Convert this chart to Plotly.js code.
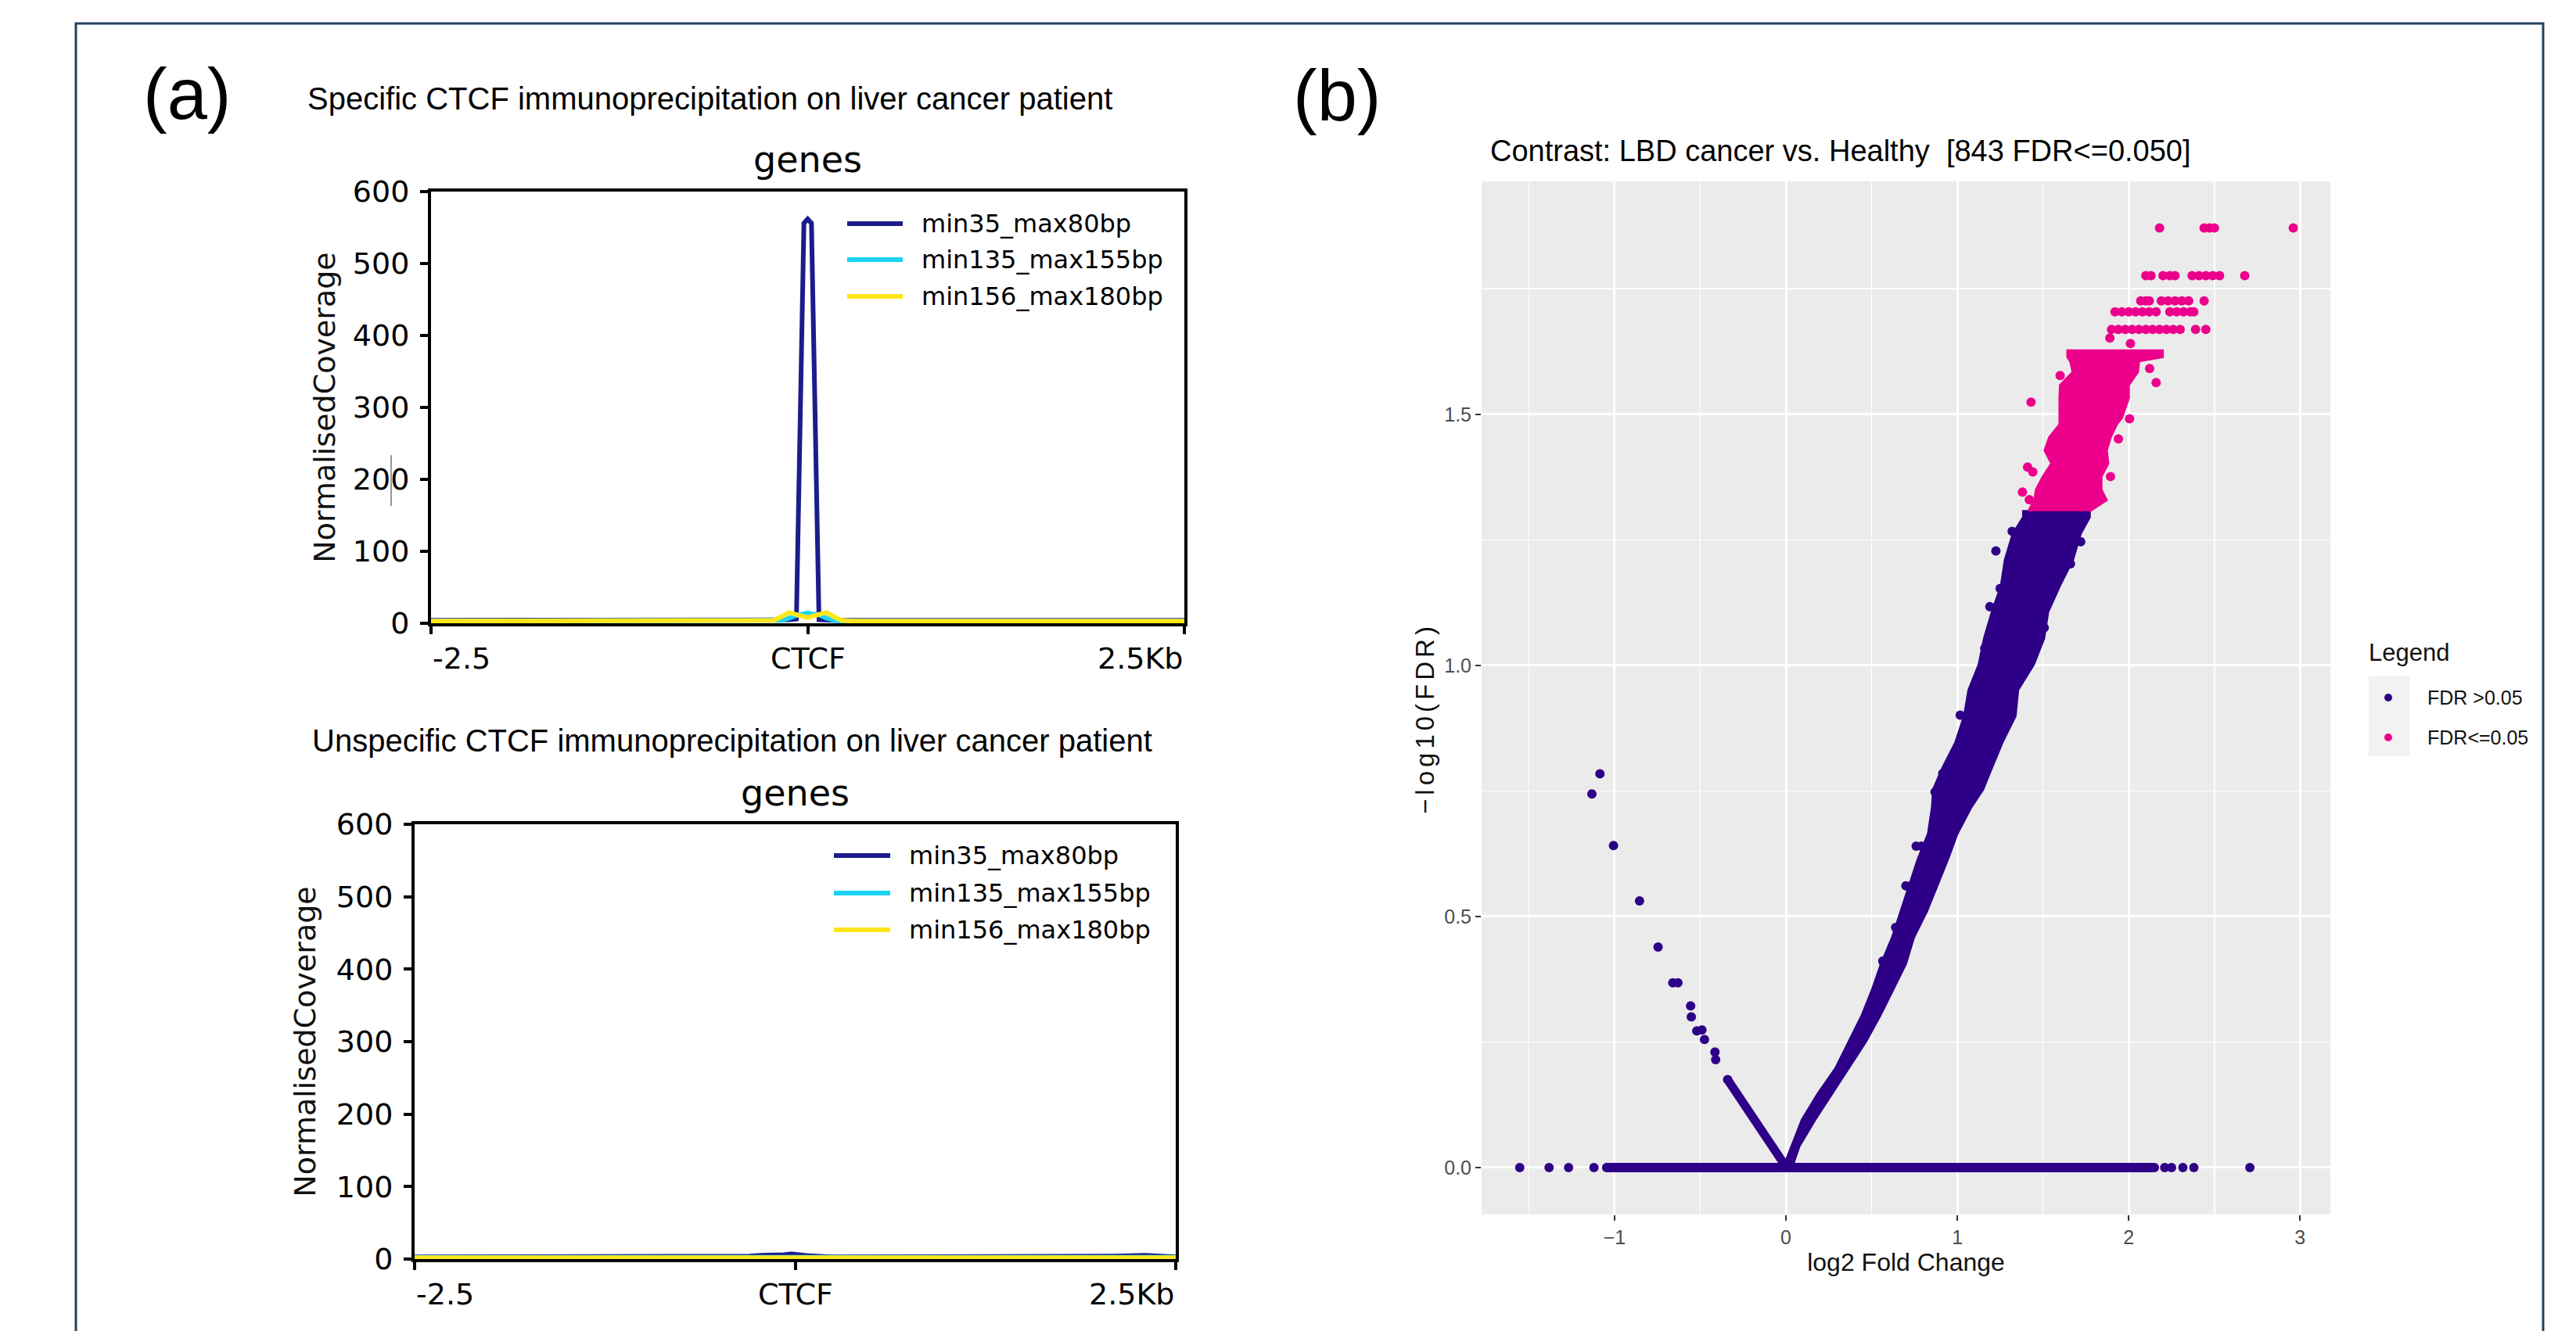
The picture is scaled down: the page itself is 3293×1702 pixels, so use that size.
<!DOCTYPE html>
<html><head><meta charset="utf-8">
<script src="https://cdn.plot.ly/plotly-3.0.1.min.js"></script>
<style>html,body{margin:0;padding:0;background:#fff;overflow:hidden}#chart{width:3293px;height:1702px}</style>
</head><body><div id="chart"></div>
<script>
// ---------- Panel (a): coverage profiles (bins in bp around CTCF) ----------
const binPos = [-2500,-2300,-2100,-1900,-1700,-1500,-1300,-1100,-900,-700,-500,-400,-300,-225,-175,-125,-75,-25,0,25,75,125,175,225,300,400,500,700,900,1100,1300,1500,1700,1900,2100,2300,2500];
const seriesNames = ['min35_max80bp','min135_max155bp','min156_max180bp'];
const specMin35   = [4,4,5,4,4,5,4,4,4,4,4,4,4,4,5,5,6,556,562,556,5,4,4,4,4,4,4,4,4,4,5,4,5,4,4,5,4];
const specMin135  = [3,3,3,3,3,3,3,3,3,3,3,3,3,3,4,7,11,13,14,13,12,7,4,3,3,3,3,3,3,3,3,3,3,3,3,3,3];
const specMin156  = [3,3,3,3,3,3,3,3,3,3,3,3,3,4,9,15,12,9.5,8,9.5,12.5,15,9,4,3,3,3,3,3,3,3,3,3,3,3,3,3];
const unspecMin35  = [3,3,3,3,3,3,3,3,3,4,4,4,4,5,5,5,6,7,7,6,5,4,4,3,3,3,3,3,3,3,3,3,3,3,4,5,3];
const unspecMin135 = [2.5,2.5,2.5,2.5,2.5,2.5,2.5,2.5,2.5,2.5,2.5,2.5,2.5,2.5,2.5,3,3,3,3,3,3,3,2.5,2.5,2.5,2.5,2.5,2.5,2.5,2.5,2.5,2.5,2.5,2.5,2.5,2.5,2.5];
const unspecMin156 = [2,2,2,2,2,2,2,2,2,2,2,2,2,2,2,2,2.5,2.5,2.5,2.5,2.5,2,2,2,2,2,2,2,2,2,2,2,2,2,2,2,2];
const covTicks = [0,100,200,300,400,500,600];
const xTickVals = [-2500,0,2500];
const xTickText = ['-2.5','CTCF','2.5Kb'];

// ---------- Panel (b): volcano plot (log2 FC vs -log10 FDR) ----------
const blueBandX = [-0.015,0.032,0.093,0.184,0.29,0.366,0.442,0.503,0.556,0.62,0.67,0.716,0.769,0.83,0.853,0.86,0.913,0.99,1.04,1.066,1.126,1.157,1.202,1.255,1.278,1.324,1.385,1.385,
                   1.772,1.772,1.719,1.674,1.597,1.529,1.506,1.446,1.354,1.339,1.263,1.2,1.15,1.08,1.0,0.944,0.883,0.822,0.746,0.70,0.625,0.549,0.465,0.366,0.268,0.169,0.078,0.035];
const blueBandY = [0,0.0425,0.0945,0.146,0.198,0.25,0.302,0.354,0.406,0.458,0.51,0.561,0.613,0.665,0.717,0.753,0.795,0.847,0.899,0.951,1.002,1.054,1.106,1.158,1.21,1.262,1.295,1.307,
                   1.307,1.295,1.262,1.21,1.158,1.106,1.054,1.002,0.951,0.899,0.847,0.795,0.753,0.717,0.665,0.613,0.561,0.51,0.458,0.406,0.354,0.302,0.25,0.198,0.146,0.0945,0.0425,0];
const pinkBandX = [1.415,1.45,1.46,1.50,1.55,1.51,1.537,1.597,1.597,1.60,1.674,1.66,1.643,1.643,
                   2.198,2.198,2.06,2.053,2.0,2.0,1.96,1.93,1.894,1.871,1.88,1.84,1.84,1.871,1.772];
const pinkBandY = [1.307,1.329,1.35,1.376,1.402,1.428,1.454,1.48,1.532,1.558,1.584,1.605,1.614,1.627,
                   1.627,1.614,1.606,1.584,1.558,1.532,1.493,1.48,1.454,1.428,1.402,1.376,1.35,1.329,1.307];
const zeroRowX = [-1.046, 2.15];
const zeroRowY = [0, 0];
const leftArmX = [-0.34, -0.005];
const leftArmY = [0.175, 0.004];
const bluePtsX = [-1.553,-1.382,-1.268,-1.12,2.21,2.25,2.316,2.38,2.707,-1.085,-1.132,-1.006,-0.854,-0.746,-0.66,-0.63,-0.556,-0.552,-0.52,-0.49,-0.475,-0.414,-0.41,1.225,1.017,
                  1.25,1.29,1.19,1.23,1.16,1.21,1.32,1.36,1.66,1.72,1.507,1.477,0.915,0.945,0.87,0.90,
                  0.70,0.73,0.64,0.67,0.565,0.61,0.76,0.79];
const bluePtsY = [0,0,0,0,0,0,0,0,0,0.784,0.744,0.641,0.531,0.439,0.368,0.368,0.322,0.300,0.272,0.274,0.255,0.230,0.215,1.228,0.901,
                  1.153,1.153,1.117,1.117,1.034,1.034,1.267,1.267,1.202,1.246,1.075,1.049,0.785,0.785,0.748,0.748,
                  0.561,0.561,0.478,0.478,0.411,0.411,0.64,0.64];
const pinkPtsX = [1.38,1.42,1.41,1.44,1.43,1.60,2.16,2.122,2.005,1.894,1.94,2.01,1.89];
const pinkPtsY = [1.345,1.33,1.395,1.385,1.524,1.577,1.563,1.591,1.491,1.376,1.451,1.641,1.652];
const pinkRowY = [1.669, 1.704, 1.726, 1.776, 1.871];
const pinkRowX = [
  [1.90,1.94,1.98,2.02,2.06,2.10,2.14,2.18,2.22,2.26,2.30,2.39,2.45],
  [1.92,1.96,2.00,2.04,2.08,2.12,2.16,2.24,2.28,2.32,2.36,2.38],
  [2.07,2.10,2.12,2.19,2.23,2.27,2.31,2.35,2.44],
  [2.10,2.13,2.20,2.24,2.27,2.37,2.41,2.45,2.49,2.53,2.677],
  [2.18,2.44,2.47,2.50,2.96]
];
const fcTicks = [-1,0,1,2,3];
const fcTickText = ['\u22121','0','1','2','3'];
const fdrTicks = [0,0.5,1,1.5];
const fdrTickText = ['0.0','0.5','1.0','1.5'];
const legendLabels = ['FDR >0.05','FDR<=0.05'];

// ---------- geometry helpers ----------
const SW = 3293, SH = 1702;
const fx = p => p / SW;
const fy = p => 1 - p / SH;
const NAVY = '#1c1c8c', CYAN = '#1bd3f5', YELLOW = '#fde71c';
const BLUE = '#2d0087', PINK = '#ec008b';
const lineColors = [NAVY, CYAN, YELLOW];
const MS = 12;

function covTrace(i, y, xa, ya) {
  return {type:'scatter', mode:'lines', name:seriesNames[i], x:binPos, y:y, xaxis:xa, yaxis:ya,
          line:{color:lineColors[i], width:6}, hoverinfo:'skip', showlegend:false};
}

const pinkAllX = pinkPtsX.slice(), pinkAllY = pinkPtsY.slice();
pinkRowX.forEach((row, i) => row.forEach(v => { pinkAllX.push(v); pinkAllY.push(pinkRowY[i]); }));

const traces = [
  covTrace(0, specMin35, 'x', 'y'), covTrace(1, specMin135, 'x', 'y'), covTrace(2, specMin156, 'x', 'y'),
  covTrace(0, unspecMin35, 'x2', 'y2'), covTrace(1, unspecMin135, 'x2', 'y2'), covTrace(2, unspecMin156, 'x2', 'y2'),
  {type:'scatter', mode:'lines', x:blueBandX, y:blueBandY, xaxis:'x3', yaxis:'y3', fill:'toself', fillcolor:BLUE,
   line:{color:BLUE, width:3}, hoverinfo:'skip', showlegend:false, name:legendLabels[0]},
  {type:'scatter', mode:'lines+markers', x:zeroRowX, y:zeroRowY, xaxis:'x3', yaxis:'y3',
   line:{color:BLUE, width:MS}, marker:{color:BLUE, size:MS}, hoverinfo:'skip', showlegend:false},
  {type:'scatter', mode:'lines+markers', x:leftArmX, y:leftArmY, xaxis:'x3', yaxis:'y3',
   line:{color:BLUE, width:11}, marker:{color:BLUE, size:MS}, hoverinfo:'skip', showlegend:false},
  {type:'scatter', mode:'markers', x:bluePtsX, y:bluePtsY, xaxis:'x3', yaxis:'y3',
   marker:{color:BLUE, size:MS}, hoverinfo:'skip', showlegend:false, cliponaxis:false},
  {type:'scatter', mode:'lines', x:pinkBandX, y:pinkBandY, xaxis:'x3', yaxis:'y3', fill:'toself', fillcolor:PINK,
   line:{color:PINK, width:3}, hoverinfo:'skip', showlegend:false, name:legendLabels[1]},
  {type:'scatter', mode:'markers', x:pinkAllX, y:pinkAllY, xaxis:'x3', yaxis:'y3',
   marker:{color:PINK, size:MS}, hoverinfo:'skip', showlegend:false}
];

function aX(domain, anchor) {
  return {domain, anchor, range:[-2500,2500], showgrid:false, zeroline:false, showline:true, linecolor:'#000',
          linewidth:4, mirror:true, ticks:'outside', ticklen:10, tickwidth:4, tickcolor:'#000',
          tickvals:xTickVals, showticklabels:false, fixedrange:true};
}
function aY(domain, anchor, standoff) {
  return {domain, anchor, range:[0,600], showgrid:false, zeroline:false, showline:true, linecolor:'#000',
          linewidth:4, mirror:true, ticks:'outside', ticklen:10, tickwidth:4, tickcolor:'#000',
          tickvals:covTicks, ticktext:covTicks.map(String), ticklabelstandoff:6,
          tickfont:{family:'DejaVu Sans', size:38, color:'#000'},
          title:{text:'NormalisedCoverage', font:{family:'DejaVu Sans', size:38, color:'#111'}, standoff}};
}

const layout = {
  width:SW, height:SH, margin:{l:0, r:0, t:0, b:0}, paper_bgcolor:'#fff', plot_bgcolor:'rgba(0,0,0,0)',
  showlegend:false, hovermode:false, font:{family:'DejaVu Sans', color:'#000'},
  xaxis: aX([fx(551), fx(1514)], 'y'),
  yaxis: aY([fy(797), fy(245)], 'x', 12),
  xaxis2: aX([fx(530), fx(1503)], 'y2'),
  yaxis2: aY([fy(1610), fy(1054)], 'x2', 16),
  xaxis3: {domain:[fx(1894), fx(2979)], anchor:'y3', range:[-1.7755, 3.1766], showline:false, zeroline:false,
           showgrid:true, gridcolor:'#fff', gridwidth:3, ticks:'outside', ticklen:7, tickwidth:2, tickcolor:'#333',
           tickvals:fcTicks, ticktext:fcTickText, tickfont:{family:'Liberation Sans', size:25, color:'#4d4d4d'},
           minor:{tickvals:[-1.5,-0.5,0.5,1.5,2.5], showgrid:true, gridcolor:'#fff', gridwidth:1.5, ticks:''},
           title:{text:'log2 Fold Change', font:{family:'Liberation Sans', size:32, color:'#111'}, standoff:4}},
  yaxis3: {domain:[fy(1553), fy(232)], anchor:'x3', range:[-0.0935, 1.9637], showline:false, zeroline:false,
           showgrid:true, gridcolor:'#fff', gridwidth:3, ticks:'outside', ticklen:7, tickwidth:2, tickcolor:'#333',
           tickvals:fdrTicks, ticktext:fdrTickText, tickfont:{family:'Liberation Sans', size:25, color:'#4d4d4d'},
           minor:{tickvals:[0.25,0.75,1.25,1.75], showgrid:true, gridcolor:'#fff', gridwidth:1.5, ticks:''},
           title:{text:'\u2212log10(FDR)', font:{family:'Liberation Sans', size:33, color:'#111'}, standoff:2}},
  shapes: [
    {type:'rect', xref:'paper', yref:'paper', x0:fx(97), x1:fx(3251), y0:fy(1720), y1:fy(30),
     line:{color:'#23405e', width:3}, fillcolor:'rgba(0,0,0,0)', layer:'below'},
    {type:'rect', xref:'x3 domain', yref:'y3 domain', x0:0, x1:1, y0:0, y1:1, fillcolor:'#ebebeb',
     line:{width:0}, layer:'below'},
    {type:'line', xref:'paper', yref:'paper', x0:fx(500), x1:fx(500), y0:fy(582), y1:fy(647),
     line:{color:'#777', width:1.5}},
    {type:'rect', xref:'paper', yref:'paper', x0:fx(3028), x1:fx(3080), y0:fy(967), y1:fy(865),
     fillcolor:'#f2f2f2', line:{width:0}}
  ],
  annotations: []
};

// legends of panel (a)
const legA = [{x0:1083, x1:1154, tx:1176, rows:[286, 332, 379]}, {x0:1066, x1:1138, tx:1160, rows:[1094, 1142, 1189]}];
legA.forEach(L => {
  L.rows.forEach((ry, i) => {
    layout.shapes.push({type:'line', xref:'paper', yref:'paper', x0:fx(L.x0), x1:fx(L.x1), y0:fy(ry), y1:fy(ry),
                        line:{color:lineColors[i], width:6}});
    layout.annotations.push({xref:'paper', yref:'paper', x:fx(L.tx), y:fy(ry), xanchor:'left', yanchor:'middle',
                             text:seriesNames[i], showarrow:false, font:{family:'DejaVu Sans', size:32, color:'#000'}});
  });
});
// legend of panel (b)
[[892, BLUE], [943, PINK]].forEach((r, i) => {
  layout.shapes.push({type:'circle', xref:'paper', yref:'paper', xsizemode:'pixel', ysizemode:'pixel',
                      xanchor:fx(3053), yanchor:fy(r[0]), x0:-5, x1:5, y0:-5, y1:5, fillcolor:r[1], line:{width:0}});
  layout.annotations.push({xref:'paper', yref:'paper', x:fx(3101), y:fy(r[0]), xanchor:'left', yanchor:'middle',
                           text:legendLabels[i], showarrow:false, font:{family:'Liberation Sans', size:25, color:'#111'}});
});
layout.annotations.push({xref:'paper', yref:'paper', x:fx(3026), y:fy(835), xanchor:'left', yanchor:'middle',
                         text:'Legend', showarrow:false, font:{family:'Liberation Sans', size:31, color:'#111'}});

// x tick labels of panel (a): first left-aligned, last right-aligned
[['x', 842], ['x2', 1655]].forEach(a => {
  xTickVals.forEach((v, i) => {
    layout.annotations.push({xref:a[0], yref:'paper', x:v, y:fy(a[1]), xanchor:i === 0 ? 'left' : (i === 2 ? 'right' : 'center'),
                             yanchor:'middle', text:xTickText[i], showarrow:false,
                             font:{family:'DejaVu Sans', size:38, color:'#000'}});
  });
});

// titles
const txt = (x, y, text, size, family, xanchor) => ({xref:'paper', yref:'paper', x:fx(x), y:fy(y), xanchor:xanchor || 'left',
  yanchor:'middle', text, showarrow:false, font:{family, size, color:'#000'}});
layout.annotations.push(txt(239, 120, '(a)', 92, 'Liberation Sans', 'center'));
layout.annotations.push(txt(1709, 122, '(b)', 92, 'Liberation Sans', 'center'));
layout.annotations.push(txt(391, 126, 'Specific CTCF immunoprecipitation on liver cancer patient', 40, 'Liberation Sans'));
layout.annotations.push(txt(397, 947, 'Unspecific CTCF immunoprecipitation on liver cancer patient', 40, 'Liberation Sans'));
layout.annotations.push(txt(1032.5, 204, 'genes', 46, 'DejaVu Sans', 'center'));
layout.annotations.push(txt(1016.5, 1014, 'genes', 46, 'DejaVu Sans', 'center'));
layout.annotations.push(txt(1903, 193, 'Contrast: LBD cancer vs. Healthy \u00a0[843 FDR<=0.050]', 38, 'Liberation Sans'));

Plotly.newPlot('chart', traces, layout, {staticPlot:true, displayModeBar:false}).then(gd => {
  const t = gd.querySelector('.g-y3title text');
  if (t) { t.style.letterSpacing = '5px'; t.setAttribute('dx', '-26'); }
});
</script></body></html>
